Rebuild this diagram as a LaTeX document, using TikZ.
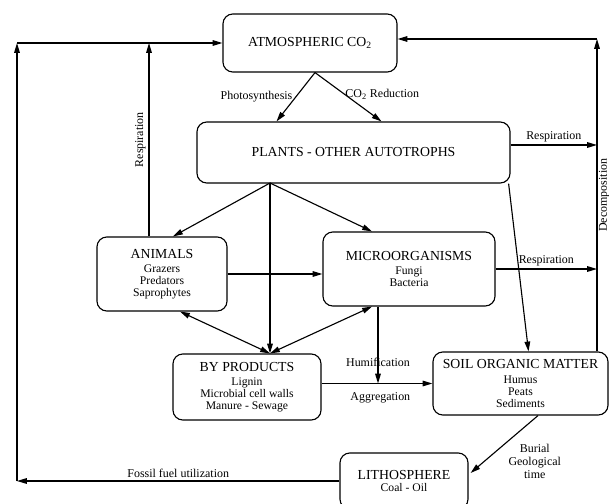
\documentclass[tikz,border=0pt]{standalone}
\usepackage{fontspec}
\setmainfont{Liberation Serif}
\usetikzlibrary{arrows.meta}
\usetikzlibrary{calc}
\usetikzlibrary{positioning}

\newcommand{\hd}[1]{{\fontsize{9.8}{11}\selectfont #1}}

\begin{document}
\begin{tikzpicture}[x=0.025cm, y=-0.025cm, line width=0.8pt,
    box/.style={draw, rounded corners=7pt, align=center, inner sep=2pt, font=\fontsize{8.3}{8.6}\selectfont},
    arr/.style={-{Triangle[length=7pt,width=4pt]}},
    darr/.style={{Triangle[length=7pt,width=4pt]}-{Triangle[length=7pt,width=4pt]}},
    lbl/.style={font=\fontsize{8.5}{9.5}\selectfont, inner sep=2pt}]
    \useasboundingbox (0,0) rectangle (609,504);

    \node[box, minimum width=4.35cm,  minimum height=1.45cm]  (atm)     at (310,43)      {\hd{ATMOSPHERIC CO\textsubscript{2}}};
    \node[box, minimum width=7.825cm, minimum height=1.525cm] (plants)  at (353.5,152.5) {\hd{PLANTS - OTHER AUTOTROPHS}};
    \node[box, minimum width=3.25cm,  minimum height=1.85cm]  (animals) at (162,274)     {\hd{ANIMALS}\\[1.5pt]Grazers\\Predators\\Saprophytes};
    \node[box, minimum width=4.3cm,   minimum height=1.85cm]  (micro)   at (409,269)     {\hd{MICROORGANISMS}\\[1.5pt]Fungi\\Bacteria};
    \node[box, minimum width=3.7cm,   minimum height=1.65cm]  (byprod)  at (247,387)     {\hd{BY PRODUCTS}\\[1.5pt]Lignin\\Microbial cell walls\\Manure - Sewage};
    \node[box, minimum width=4.375cm, minimum height=1.575cm] (soil)    at (520.5,383.5) {\hd{SOIL ORGANIC MATTER}\\[1.5pt]Humus\\Peats\\Sediments};
    \node[box, minimum width=3.2cm,   minimum height=1.4cm]   (litho)   at (404,481)     {\hd{LITHOSPHERE}\\Coal - Oil};

    \coordinate (ltop) at (17,43);
    \coordinate (lbot) at (17,481);
    \coordinate (resp) at (149,43);
    \coordinate (rtop) at (597,39);
    \coordinate (pr)   at (597,145);
    \coordinate (pb)   at (270,183);
    \coordinate (hm)   at ($(micro.south)+(-31,0)$);

    \draw[arr] ($(atm.south)+(5,0)$) -- ($(plants.north)+(-77,0)$)
    node[lbl, midway, left]{Photosynthesis};
    \draw[arr] ($(atm.south)+(5,0)$) -- ($(plants.north)+(28,0)$)
    node[lbl, pos=0.45, right, inner sep=0pt]{CO\textsubscript{2} Reduction};

    \draw[arr] (litho) -- (lbot) node[lbl, midway, above]{Fossil fuel utilization};
    \draw[arr] (lbot) -- (ltop);
    \draw[arr] (ltop) -- (atm);
    \draw[arr] (resp |- animals.north) -- (resp)
    node[lbl, midway, rotate=90, anchor=south]{Respiration};

    \draw[arr] (rtop |- soil.north) -- (rtop)
    node[lbl, midway, rotate=90, anchor=north, inner sep=1pt]{Decomposition};
    \draw[arr] (rtop) -- (atm.east |- rtop);
    \draw[arr] (plants.east |- pr) -- (pr) node[lbl, midway, above]{Respiration};
    \draw[arr] (micro.east) -- (micro.east -| rtop) node[lbl, midway, above]{Respiration};
    \draw[arr] ($(plants.south east)+(-2,0)$) -- ($(soil.north)+(8,0)$);

    \draw[arr] (pb) -- ($(animals.north)+(11,0)$);
    \draw[arr] (pb) -- ($(micro.north)+(-37,0)$);
    \draw[arr] (pb) -- (pb |- byprod.north);
    \draw[darr] (pb |- byprod.north) -- ($(animals.south)+(18,0)$);
    \draw[darr] (pb |- byprod.north) -- ($(micro.south)+(-37,0)$);
    \draw[arr] (animals.east) -- (animals.east -| micro.west);

    \draw[arr] (byprod.east |- soil.west) -- (soil.west) node[lbl, pos=0.53, below=4pt]{Aggregation};
    \draw[arr] (hm) -- (hm |- soil.west) node[lbl, pos=0.72]{Humification};
    \draw[arr] ($(soil.south)+(17.5,0)$) -- ($(litho.east)+(2,-8)$)
    node[lbl, pos=0.8, right=15pt, align=center]{Burial\\Geological\\time};
\end{tikzpicture}
\end{document}
